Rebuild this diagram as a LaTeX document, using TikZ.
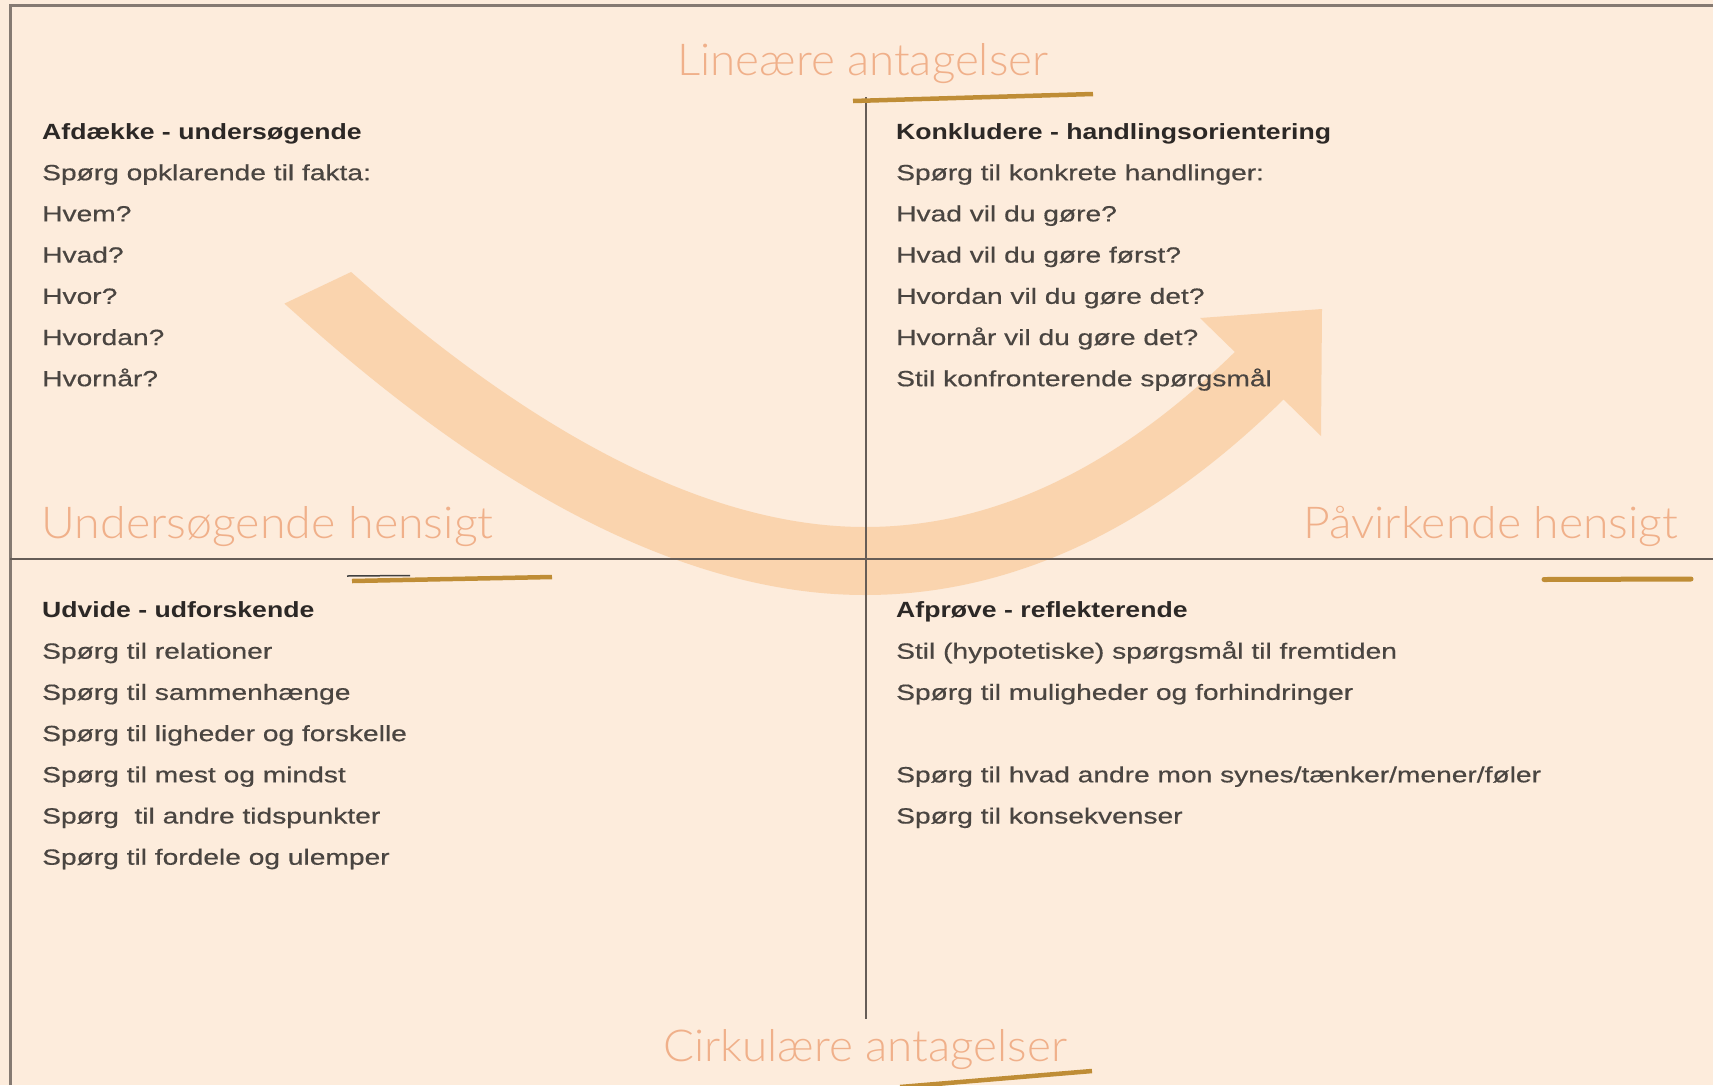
\documentclass[tikz,border=0pt]{standalone}
\usepackage{fontspec}
\usepackage{graphicx}
\newfontfamily\bodyfont[FakeStretch=1.28,FakeBold=0.5]{Liberation Sans}
\newfontfamily\hdrfont[FakeStretch=1.21]{Liberation Sans}
\newfontfamily\headfont{Lato}[UprightFont={* Light}]
\definecolor{bg}{HTML}{FDECDC}
\definecolor{bandcol}{HTML}{FAD4AE}
\definecolor{headcol}{HTML}{F0B08A}
\definecolor{gold}{HTML}{BF8D36}
\definecolor{divcol}{HTML}{665D57}
\definecolor{framecol}{HTML}{857A72}
\definecolor{bodytext}{HTML}{4A4541}
\definecolor{hdrtext}{HTML}{2C2826}
\tikzset{
  body/.style={anchor=base west, inner sep=0pt, font=\bodyfont\fontsize{22}{26}\selectfont, text=bodytext},
  hdr/.style={anchor=base west, inner sep=0pt, font=\hdrfont\bfseries\fontsize{22}{26}\selectfont, text=hdrtext},
  heading/.style={anchor=base west, inner sep=0pt, font=\headfont\fontsize{44}{50}\selectfont, text=headcol},
  divider/.style={line width=2.8pt, draw=divcol},
  frameline/.style={line width=3pt, draw=framecol},
  goldline/.style={line width=4.5pt, draw=gold},
  band/.style={line width=68pt, draw=bandcol, line cap=butt},
}
\begin{document}
\begin{tikzpicture}[x=1pt,y=-1pt]
\useasboundingbox (0,0) rectangle (1713,1085);
\fill[bg] (0,0) rectangle (1713,1085);

% curved arrow band
\begin{scope}
  \clip (100,391) -- (600,154) -- (1713,154) -- (1713,1085) -- (100,1085) -- cycle;
  \draw[band] (300,272) -- (318,288) .. controls (467,422) and (665,561) .. (865,561)
     .. controls (1045,561) and (1181,454) .. (1268,367);
\end{scope}
\fill[bandcol] (1322,309) -- (1200,318) -- (1321,436) -- cycle;

% frame and dividers
\draw[frameline] (10,1085) -- (10,5) -- (1713,5);
\coordinate (hl) at (10,559);
\coordinate (hr) at (1713,559);
\coordinate (vt) at (866,97);
\coordinate (vb) at (866,1019);
\draw[divider] (hl) -- (hr);
\draw[divider] (vt) -- (vb);

% gold strokes
\draw[goldline] (853,101) -- (1093,94);
\draw[line width=1.5pt, draw=black!75] (347,576) -- (410,575.5);
\draw[goldline] (352,581) -- (552,577);
\draw[goldline, line width=5pt, line cap=round] (1544,579.5) -- (1691,579);
\draw[goldline] (900,1087) -- (1092,1071);

% headings
\node[heading] (hlin) at (677,75) {\resizebox{371pt}{\height}{Lineære antagelser}};
\node[heading] (hund) at (41.5,538) {\resizebox{452pt}{\height}{Undersøgende hensigt}};
\node[heading] (hpaa) at (1303,538) {\resizebox{375pt}{\height}{Påvirkende hensigt}};
\node[heading] (hcir) at (663,1061) {\resizebox{404pt}{\height}{Cirkulære antagelser}};

% top-left quadrant
\node[hdr] (tlh) at (42,139) {Afdække - undersøgende};
\foreach \t [count=\i from 1] in {{Spørg opklarende til fakta:},{Hvem?},{Hvad?},{Hvor?},{Hvordan?},{Hvornår?}}
  \node[body] (tl\i) at (42,{139+41.2*\i}) {\t};

% top-right quadrant
\node[hdr] (trh) at (896,139) {Konkludere - handlingsorientering};
\foreach \t [count=\i from 1] in {{Spørg til konkrete handlinger:},{Hvad vil du gøre?},{Hvad vil du gøre først?},{Hvordan vil du gøre det?},{Hvornår vil du gøre det?},{Stil konfronterende spørgsmål}}
  \node[body] (tr\i) at (896,{139+41.2*\i}) {\t};

% bottom-left quadrant
\node[hdr] (blh) at (42,617.5) {Udvide - udforskende};
\foreach \t [count=\i from 1] in {{Spørg til relationer},{Spørg til sammenhænge},{Spørg til ligheder og forskelle},{Spørg til mest og mindst},{Spørg~ til andre tidspunkter},{Spørg til fordele og ulemper}}
  \node[body] (bl\i) at (42,{617.5+41.2*\i}) {\t};

% bottom-right quadrant
\node[hdr] (brh) at (896,617.5) {Afprøve - reflekterende};
\node[body] (br1) at (896,658.7) {Stil (hypotetiske) spørgsmål til fremtiden};
\node[body] (br2) at (896,699.9) {Spørg til muligheder og forhindringer};
\node[body] (br3) at (896,782.3) {Spørg til hvad andre mon synes/tænker/mener/føler};
\node[body] (br4) at (896,823.5) {Spørg til konsekvenser};
\end{tikzpicture}
\end{document}
